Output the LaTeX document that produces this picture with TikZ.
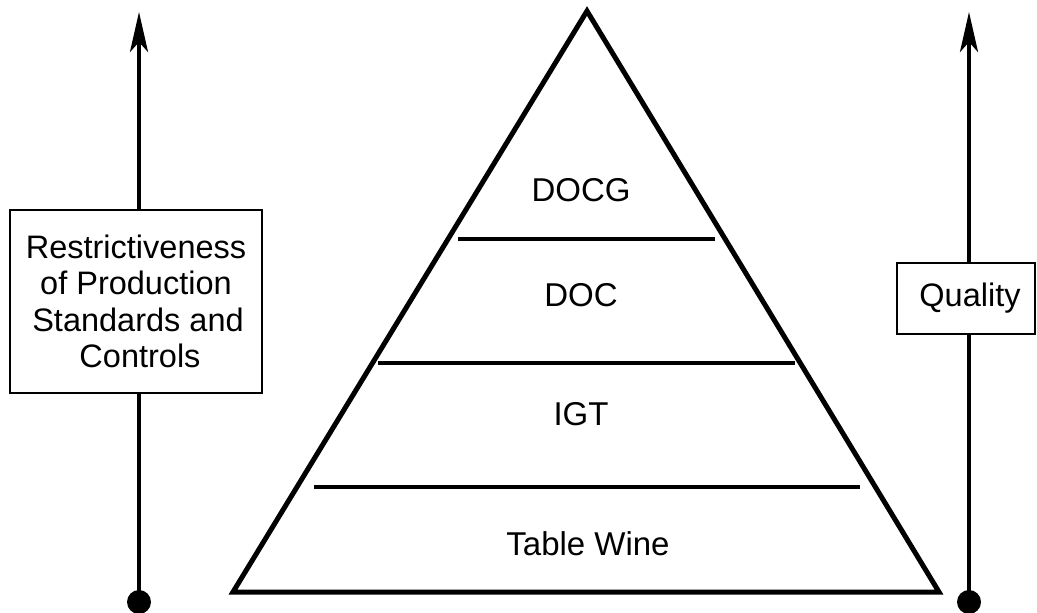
\documentclass[tikz,border=0pt]{standalone}
\usepackage{fontspec}
\setmainfont{Liberation Sans}
\usetikzlibrary{arrows.meta}
\begin{document}
\begin{tikzpicture}[x=1pt,y=-1pt,
  lbl/.style={font=\fontsize{33}{37}\selectfont, inner sep=0pt},
  bx/.style={draw, line width=2pt, fill=white, align=center, font=\fontsize{32.5}{36.5}\selectfont},
  axis/.style={line width=4pt, -{Stealth[length=40pt,width=18pt,inset=10pt]}},
  tier/.style={line width=3.5pt}]
\useasboundingbox (0,0) rectangle (1037,613);
% axes
\coordinate (lbot) at (139,602);
\coordinate (ltop) at (139,12);
\coordinate (rbot) at (969,602);
\coordinate (rtop) at (969,12);
\draw[axis] (lbot) -- (ltop);
\draw[axis] (rbot) -- (rtop);
\fill (lbot) circle (12);
\fill (rbot) circle (12);
% boxes
\node[bx, minimum width=252pt, minimum height=183pt] (rb) at (136,301.5) {Restrictiveness\\of Production\\ \hspace*{4pt}Standards and\\\hspace*{8pt}Controls};
\node[bx, minimum width=138pt, minimum height=71pt, text width=118pt, align=center] (qb) at (966,298) {\hspace*{8pt}Quality};
% pyramid
\coordinate (apex) at (587,11);
\coordinate (bl) at (233,592);
\coordinate (br) at (939,592);
\draw[line width=5pt, line join=miter] (apex) -- (br) -- (bl) -- cycle;
\coordinate (a1) at (458,239); \coordinate (b1) at (715,239);
\coordinate (a2) at (378,363); \coordinate (b2) at (795,363);
\coordinate (a3) at (314,487); \coordinate (b3) at (860,487);
\draw[tier] (a1) -- (b1);
\draw[tier] (a2) -- (b2);
\draw[tier] (a3) -- (b3);
\node[lbl] (docg) at (581,190) {DOCG};
\node[lbl] (doc) at (581,295) {DOC};
\node[lbl] (igt) at (581,414) {IGT};
\node[lbl] (tw) at (588,544) {Table Wine};
\end{tikzpicture}
\end{document}
